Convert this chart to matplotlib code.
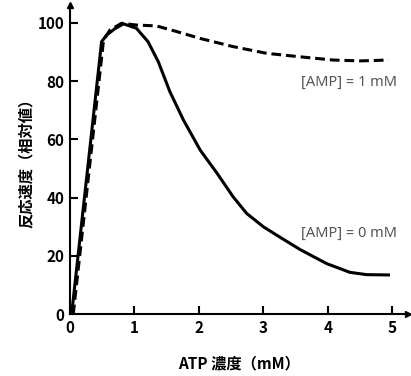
import numpy as np
import matplotlib.pyplot as plt

plt.rcParams['font.family'] = ['Noto Sans CJK JP', 'DejaVu Sans']

# ATP concentration (mM) and relative reaction rate, [AMP] = 0 mM
atp_0 = [0.03, 0.49, 0.57, 0.70, 0.83, 1.03, 1.21, 1.37, 1.55, 1.76, 2.02, 2.28,
         2.53, 2.74, 3.0, 3.26, 3.57, 3.98, 4.34, 4.60, 4.94]
rate_0 = [1, 93.5, 95.8, 98.0, 99.6, 98.1, 93.5, 86.6, 76.3, 66.6, 56.3, 48.4,
          40.3, 34.6, 30.0, 26.4, 22.2, 17.4, 14.4, 13.6, 13.5]

# [AMP] = 1 mM
atp_1 = [0.05, 0.52, 0.62, 0.80, 1.03, 1.34, 1.65, 2.02, 2.53, 3.05, 3.57, 4.08, 4.5, 4.94]
rate_1 = [0, 94, 97.5, 99.8, 99.2, 98.9, 97, 94.6, 91.8, 89.5, 88.3, 87.2, 86.9, 87.2]

xticks = [0, 1, 2, 3, 4, 5]
yticks = [0, 20, 40, 60, 80, 100]

fig = plt.figure(figsize=(4.11, 3.76), dpi=100)
ax = fig.add_axes([70 / 411, 1 - 314.3 / 376, 338 / 411, 309 / 376])

ax.plot(atp_0, rate_0, color='black', lw=2.2, solid_joinstyle='round')
ax.plot(atp_1, rate_1, color='black', lw=2.2, ls=(0, (3.2, 1.6)))

ax.set_xlim(0, 338 / 64.47)
ax.set_ylim(0, 309 / 2.916)

for s in ['top', 'right']:
    ax.spines[s].set_visible(False)
for s in ['left', 'bottom']:
    ax.spines[s].set_linewidth(1.5)
ax.plot(1, 0, '>', color='black', ms=4, transform=ax.transAxes, clip_on=False)
ax.plot(0, 1, '^', color='black', ms=4, transform=ax.transAxes, clip_on=False)

ax.set_xticks(xticks)
ax.set_yticks(yticks)
ax.tick_params(direction='in', length=6, width=1.5, labelsize=11, pad=4)
for lab in ax.get_xticklabels() + ax.get_yticklabels():
    lab.set_fontweight('bold')

ax.text(5.07, 79.7, '[AMP] = 1 mM', ha='right', va='center', color='#555555',
        fontsize=10.5, family='Noto Sans')
ax.text(5.07, 27.8, '[AMP] = 0 mM', ha='right', va='center', color='#555555',
        fontsize=10.5, family='Noto Sans')

ax.set_xlabel('ATP 濃度（mM）', fontsize=11, fontweight='bold', labelpad=14)
ax.set_ylabel('反応速度（相対値）', fontsize=11, fontweight='bold', labelpad=3)

fig.savefig('out.png', dpi=100)
